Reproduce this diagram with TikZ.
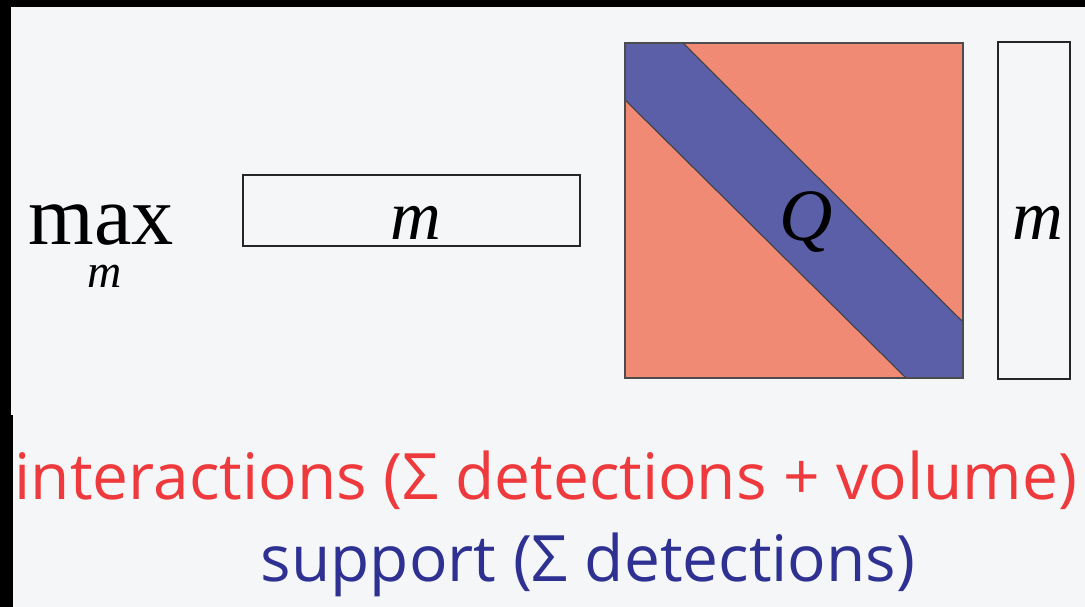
\documentclass[tikz,border=0pt]{standalone}
\usepackage{fontspec}
\usepackage{tikz}
\setmainfont{Liberation Serif}
\newfontfamily\labelfont{Open Sans}
\definecolor{bgcol}{HTML}{F5F6F8}
\definecolor{salmon}{HTML}{F08A75}
\definecolor{bandblue}{HTML}{5A5FA8}
\definecolor{redtext}{HTML}{EE3A3C}
\definecolor{bluetext}{HTML}{2E3192}

\begin{document}
\begin{tikzpicture}[x=0.01cm,y=-0.01cm,
    vecbox/.style={rectangle, draw=black!85, line width=0.6pt, inner sep=0pt},
    caption/.style={anchor=base, inner sep=0pt, font=\labelfont\fontsize{18.2}{21}\selectfont}]
            \useasboundingbox (0,0) rectangle (1085,607);
            \fill[bgcol] (0,0) rectangle (1085,607);
            \fill[black] (0,0) rectangle (1085,7);
            \fill[black] (0,0) rectangle (11,415);
            \fill[black] (0,415) rectangle (13,607);
            % max over m
            \node[anchor=base, inner sep=0pt, font=\fontsize{24}{28}\selectfont] (maxop) at (101,245) {max};
            \node[anchor=base, inner sep=0pt, font=\fontsize{13.5}{15}\selectfont\itshape] (maxsub) at (105,288) {m};
		      % row vector
            \node[vecbox, minimum width=3.37cm, minimum height=0.71cm] (rowvec) at (411.5,210.5) {};
            \node[anchor=base, inner sep=0pt, font=\fontsize{20}{24}\selectfont\itshape] (rowm) at (416,240) {m};
            % matrix Q
            \coordinate (qnw) at (625,43);
            \coordinate (qse) at (963,378);
            \fill[salmon] (qnw) rectangle (qse);
            \fill[bandblue] (625,43) -- (683,43) -- (963,322) -- (963,378) -- (906,378) -- (625,100) -- cycle;
            \draw[black!75, line width=0.3pt] (683,43) -- (963,322);
            \draw[black!75, line width=0.3pt] (625,100) -- (906,378);
            \draw[black!70, line width=0.4pt] (qnw) rectangle (qse);
            \node[inner sep=0pt, font=\fontsize{21}{25}\selectfont\itshape] (qlabel) at (806,222) {Q};
            % column vector
            \node[vecbox, minimum width=0.72cm, minimum height=3.36cm] (colvec) at (1034,210.5) {};
            \node[anchor=base, inner sep=0pt, font=\fontsize{20}{24}\selectfont\itshape] (colm) at (1038,240) {m};
            % captions
            \node[caption, text=redtext] (interact) at (546,500) {interactions (Σ detections + volume)};
            \node[caption, text=bluetext] (support) at (588,582) {support (Σ detections)};
        \end{tikzpicture}
\end{document}
